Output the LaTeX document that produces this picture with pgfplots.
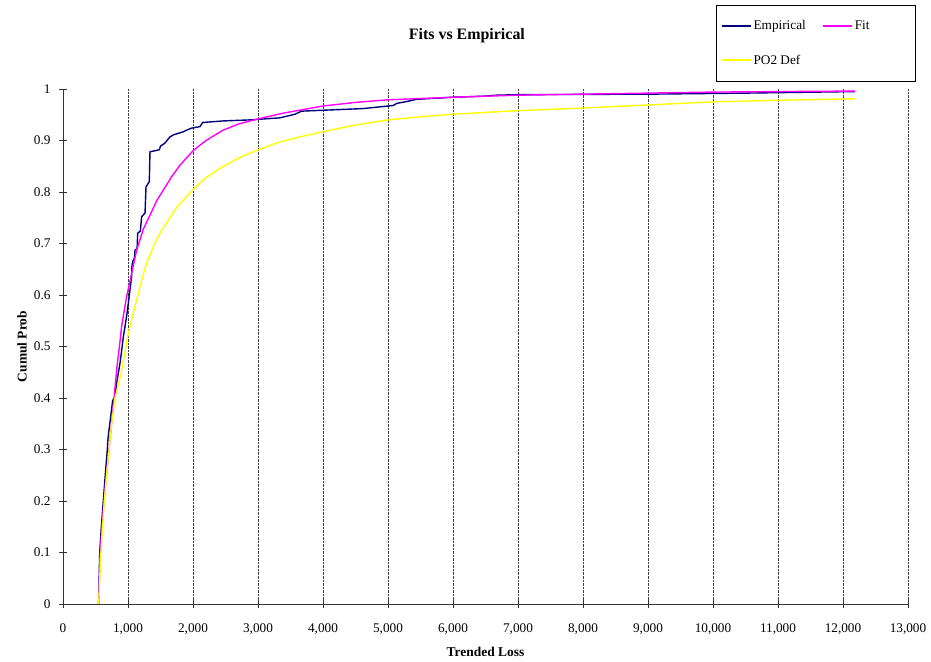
\documentclass[border=0pt]{standalone}
\usepackage{fontspec}
\setmainfont{Liberation Serif}
\usepackage{pgfplots}
\pgfplotsset{compat=1.18}
\definecolor{empblue}{RGB}{0,0,128}
\definecolor{fitmag}{RGB}{255,0,255}
\definecolor{poyel}{RGB}{255,255,0}
\begin{document}
\begin{tikzpicture}
\useasboundingbox (-63bp,-58bp) rectangle (868bp,604bp);
\begin{axis}[
  at={(0,0)}, anchor=south west,
  scale only axis, width=845bp, height=515bp,
  xmin=0, xmax=13000, ymin=0, ymax=1,
  axis x line*=bottom, axis y line*=left,
  axis line style={line width=0.8pt, black!80},
  xtick={0,1000,...,13000},
  ytick={0,0.1,0.2,0.3,0.4,0.5,0.6,0.7,0.8,0.9,1},
  yticklabels={0,0.1,0.2,0.3,0.4,0.5,0.6,0.7,0.8,0.9,1},
  tick align=center, major tick length=8bp,
  tick style={line width=0.8pt, black!80},
  xmajorgrids, grid style={densely dotted, line width=0.8pt, black!75},
  scaled x ticks=false,
  /pgf/number format/assume math mode=true,
  /pgf/number format/1000 sep={,},
  ticklabel style={font=\fontsize{13.3}{15}\selectfont},
  x tick label style={yshift=-12bp},
  y tick label style={xshift=-5bp},
  title={Fits vs Empirical},
  title style={at={(axis description cs:0.478,1.0913)}, anchor=center, font=\bfseries\fontsize{16}{19}\selectfont},
  xlabel={Trended Loss}, ylabel={Cumul Prob},
  label style={font=\bfseries\fontsize{13.5}{16}\selectfont},
  xlabel style={at={(axis description cs:0.5,-0.0932)}, anchor=center},
  ylabel style={at={(axis description cs:-0.0485,0.5)}, anchor=center},
  legend columns=2,
  legend cell align=left,
  legend image code/.code={\draw[#1, line width=2pt] (0bp,0bp) -- (29bp,0bp);},
  legend style={at={(rel axis cs:1.0083,1.163)}, anchor=north east, draw=black,
    font=\fontsize{13.3}{15}\selectfont, inner xsep=4bp, inner ysep=13bp, row sep=20bp,
    /tikz/every even column/.append style={column sep=14bp}},
]
\addplot[empblue, line width=1.4pt] coordinates {
(548,0)(556,0.05)(565,0.1)(590,0.15)(620,0.2)(650,0.25)(682,0.3)(690,0.318)(700,0.33)(730,0.36)
(764,0.395)(800,0.403)(826,0.43)(851,0.448)(880,0.47)(903,0.493)(930,0.52)(954,0.539)(980,0.56)
(1005,0.584)(1030,0.61)(1056,0.636)(1060,0.655)(1072,0.665)(1100,0.672)(1108,0.687)(1140,0.69)
(1149,0.72)(1190,0.724)(1210,0.752)(1262,0.759)(1277,0.81)(1328,0.82)(1338,0.878)(1482,0.882)
(1500,0.889)(1569,0.895)(1600,0.90)(1646,0.907)(1700,0.911)(1851,0.917)(1900,0.92)(1979,0.924)
(2108,0.927)(2149,0.935)(2467,0.938)(2877,0.940)(3338,0.944)(3569,0.951)(3672,0.957)(4620,0.962)
(5082,0.968)(5133,0.972)(5300,0.976)(5441,0.980)(6000,0.984)(6467,0.986)(6672,0.988)(7000,0.989)
(9031,0.990)(10500,0.992)(12185,0.995)
};
\addlegendentry{Empirical}
\addplot[fitmag, line width=1.4pt] coordinates {
(548,0)(558,0.04)(569,0.092)(600,0.15)(646,0.221)(685,0.27)(723,0.318)(785,0.40)(830,0.46)
(877,0.51)(903,0.54)(979,0.597)(1056,0.642)(1133,0.687)(1236,0.728)(1338,0.755)(1450,0.785)
(1595,0.814)(1672,0.83)(1800,0.852)(2000,0.880)(2200,0.900)(2462,0.920)(2700,0.932)(3005,0.942)
(3385,0.953)(4000,0.967)(4500,0.974)(5000,0.979)(6000,0.984)(7000,0.988)(8000,0.990)(9000,0.992)
(10000,0.994)(11000,0.995)(12185,0.996)
};
\addlegendentry{\makebox[54bp][l]{Fit}}
\addplot[poyel, line width=1.4pt] coordinates {
(550,0)(562,0.04)(575,0.08)(595,0.124)(630,0.19)(672,0.254)(710,0.30)(749,0.351)(800,0.40)
(851,0.425)(903,0.455)(954,0.49)(1005,0.526)(1082,0.565)(1159,0.603)(1210,0.629)(1287,0.662)
(1400,0.697)(1518,0.726)(1750,0.77)(1995,0.804)(2200,0.828)(2415,0.846)(2700,0.866)(3005,0.882)
(3300,0.896)(3646,0.907)(4000,0.917)(4500,0.930)(5000,0.940)(5500,0.946)(6000,0.951)(7000,0.958)
(8000,0.963)(9000,0.969)(10000,0.975)(11000,0.978)(12185,0.981)
};
\addlegendentry{PO2 Def}
\end{axis}
\end{tikzpicture}
\end{document}
